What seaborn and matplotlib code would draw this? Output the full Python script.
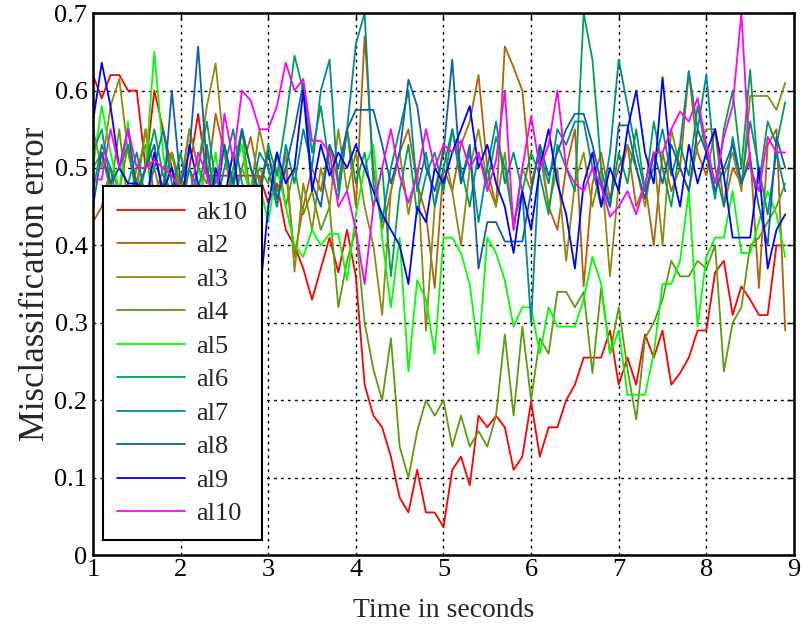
import numpy as np
import pandas as pd
import matplotlib
matplotlib.use("Agg")
import matplotlib.pyplot as plt
import seaborn as sns

# ---- data ----
time_s = np.round(np.arange(1.0, 8.95, 0.1), 1)

ak10 = [0.62,0.59,0.62,0.62,0.60,0.60,0.50,0.60,0.55,0.50,
        0.47,0.50,0.57,0.49,0.49,0.49,0.49,0.49,0.49,0.49,
        0.455,0.48,0.42,0.40,0.37,0.33,0.37,0.41,0.365,0.42,
        0.36,0.22,0.18,0.165,0.127,0.074,0.055,0.11,0.055,0.055,
        0.036,0.11,0.127,0.09,0.18,0.165,0.18,0.165,0.11,0.127,
        0.198,0.127,0.165,0.165,0.20,0.22,0.255,0.255,0.255,0.29,
        0.22,0.255,0.22,0.285,0.255,0.29,0.22,0.235,0.255,0.29,
        0.29,0.365,0.38,0.31,0.347,0.33,0.31,0.31,0.40,0.40]
al2 = [0.43,0.45,0.50,0.47,0.53,0.48,0.55,0.46,0.50,0.52,
       0.47,0.55,0.50,0.48,0.57,0.52,0.46,0.50,0.54,0.48,
       0.52,0.47,0.50,0.385,0.45,0.50,0.47,0.53,0.48,0.55,
       0.45,0.67,0.50,0.42,0.47,0.52,0.55,0.48,0.44,0.345,
       0.50,0.47,0.53,0.56,0.62,0.50,0.45,0.657,0.63,0.60,
       0.48,0.52,0.45,0.42,0.50,0.55,0.347,0.48,0.52,0.46,
       0.50,0.53,0.45,0.48,0.40,0.52,0.47,0.50,0.625,0.52,
       0.49,0.55,0.45,0.50,0.48,0.52,0.345,0.53,0.55,0.29]
al3 = [0.55,0.50,0.58,0.615,0.52,0.47,0.55,0.50,0.45,0.52,
       0.48,0.55,0.50,0.58,0.635,0.52,0.45,0.50,0.47,0.55,
       0.50,0.45,0.52,0.366,0.48,0.42,0.50,0.45,0.55,0.47,
       0.52,0.45,0.40,0.31,0.47,0.52,0.44,0.50,0.29,0.45,
       0.53,0.47,0.40,0.50,0.55,0.48,0.45,0.52,0.42,0.50,
       0.47,0.53,0.45,0.50,0.38,0.48,0.52,0.45,0.50,0.36,
       0.48,0.53,0.50,0.45,0.52,0.40,0.55,0.50,0.47,0.53,
       0.55,0.55,0.49,0.52,0.47,0.593,0.593,0.593,0.575,0.61]
al4 = [0.50,0.52,0.47,0.55,0.45,0.50,0.53,0.44,0.48,0.52,
       0.46,0.50,0.44,0.52,0.47,0.45,0.50,0.55,0.46,0.50,
       0.48,0.52,0.45,0.50,0.44,0.47,0.42,0.45,0.32,0.38,
       0.42,0.30,0.24,0.20,0.28,0.14,0.10,0.16,0.20,0.18,
       0.20,0.14,0.18,0.14,0.16,0.14,0.18,0.285,0.18,0.295,
       0.20,0.28,0.26,0.34,0.34,0.32,0.34,0.235,0.345,0.26,
       0.32,0.24,0.175,0.28,0.30,0.33,0.38,0.36,0.36,0.38,
       0.37,0.40,0.237,0.30,0.32,0.40,0.41,0.43,0.45,0.48]
al5 = [0.50,0.58,0.52,0.47,0.56,0.45,0.50,0.65,0.52,0.44,
       0.48,0.42,0.50,0.46,0.52,0.44,0.49,0.53,0.45,0.48,
       0.43,0.50,0.45,0.40,0.385,0.42,0.40,0.415,0.415,0.355,
       0.44,0.50,0.53,0.41,0.32,0.41,0.237,0.355,0.33,0.26,
       0.41,0.41,0.39,0.35,0.26,0.41,0.39,0.355,0.295,0.32,
       0.32,0.26,0.32,0.295,0.295,0.295,0.33,0.385,0.35,0.26,
       0.29,0.207,0.207,0.207,0.26,0.35,0.35,0.38,0.47,0.295,
       0.385,0.41,0.41,0.47,0.39,0.39,0.43,0.47,0.44,0.385]
al6 = [0.52,0.55,0.48,0.50,0.53,0.46,0.50,0.55,0.49,0.47,
       0.52,0.45,0.50,0.56,0.48,0.53,0.47,0.55,0.50,0.46,
       0.53,0.49,0.56,0.645,0.60,0.52,0.58,0.50,0.46,0.55,
       0.48,0.52,0.45,0.50,0.36,0.47,0.53,0.44,0.49,0.52,
       0.47,0.55,0.50,0.45,0.52,0.48,0.54,0.50,0.43,0.47,
       0.52,0.49,0.44,0.53,0.50,0.47,0.70,0.64,0.50,0.45,
       0.52,0.48,0.55,0.47,0.56,0.50,0.45,0.53,0.49,0.58,
       0.52,0.46,0.55,0.60,0.50,0.627,0.48,0.56,0.53,0.585]
al7 = [0.47,0.53,0.50,0.44,0.48,0.52,0.46,0.50,0.55,0.48,
       0.44,0.50,0.47,0.53,0.45,0.50,0.55,0.48,0.46,0.52,
       0.50,0.45,0.53,0.48,0.55,0.50,0.60,0.64,0.47,0.55,
       0.66,0.70,0.48,0.43,0.50,0.55,0.60,0.47,0.52,0.45,
       0.50,0.55,0.48,0.52,0.43,0.50,0.56,0.48,0.52,0.47,
       0.30,0.52,0.48,0.55,0.53,0.56,0.56,0.50,0.45,0.52,
       0.64,0.58,0.52,0.47,0.50,0.55,0.49,0.53,0.625,0.55,
       0.62,0.50,0.45,0.54,0.48,0.56,0.50,0.44,0.52,0.47]
al8 = [0.45,0.52,0.48,0.50,0.55,0.47,0.50,0.53,0.46,0.60,
       0.48,0.52,0.657,0.50,0.45,0.53,0.48,0.55,0.50,0.47,
       0.52,0.46,0.50,0.55,0.61,0.48,0.45,0.53,0.50,0.55,
       0.575,0.575,0.575,0.53,0.48,0.52,0.614,0.58,0.50,0.47,
       0.52,0.64,0.48,0.53,0.37,0.43,0.43,0.405,0.405,0.405,
       0.47,0.53,0.49,0.52,0.55,0.57,0.57,0.53,0.48,0.45,
       0.555,0.555,0.50,0.46,0.52,0.48,0.53,0.50,0.47,0.55,
       0.52,0.47,0.50,0.53,0.48,0.51,0.45,0.40,0.54,0.50]
al9 = [0.56,0.636,0.58,0.50,0.48,0.48,0.45,0.52,0.47,0.50,
       0.44,0.53,0.48,0.42,0.50,0.46,0.52,0.44,0.40,0.33,
       0.45,0.52,0.48,0.50,0.60,0.47,0.53,0.49,0.52,0.50,
       0.53,0.50,0.47,0.44,0.42,0.40,0.35,0.45,0.43,0.50,
       0.48,0.52,0.55,0.58,0.50,0.53,0.48,0.45,0.39,0.47,
       0.42,0.50,0.55,0.48,0.44,0.37,0.48,0.52,0.45,0.50,
       0.47,0.55,0.60,0.52,0.48,0.617,0.50,0.45,0.53,0.48,
       0.52,0.55,0.49,0.41,0.41,0.41,0.50,0.37,0.42,0.44]
al10 = [0.485,0.485,0.55,0.50,0.55,0.50,0.50,0.51,0.50,0.49,
        0.47,0.46,0.52,0.49,0.45,0.57,0.51,0.60,0.587,0.55,
        0.55,0.58,0.636,0.60,0.615,0.535,0.535,0.52,0.45,0.47,
        0.42,0.35,0.45,0.50,0.55,0.49,0.455,0.49,0.55,0.50,
        0.53,0.52,0.535,0.50,0.52,0.47,0.51,0.60,0.42,0.50,
        0.567,0.50,0.53,0.60,0.50,0.48,0.47,0.50,0.476,0.437,
        0.45,0.47,0.44,0.48,0.52,0.52,0.55,0.573,0.56,0.59,
        0.53,0.48,0.54,0.58,0.70,0.50,0.47,0.54,0.52,0.52]

series_names = ["ak10", "al2", "al3", "al4", "al5", "al6", "al7", "al8", "al9", "al10"]
series_values = [ak10, al2, al3, al4, al5, al6, al7, al8, al9, al10]
series_colors = ["#ff0000", "#b4600c", "#8c8c10", "#5c9c10", "#00ff00",
                 "#00a050", "#008c8c", "#1060a8", "#0000ff", "#ff00ff"]

x_ticks = [1, 2, 3, 4, 5, 6, 7, 8, 9]
y_ticks = [0, 0.1, 0.2, 0.3, 0.4, 0.5, 0.6, 0.7]
y_tick_labels = ["0", "0.1", "0.2", "0.3", "0.4", "0.5", "0.6", "0.7"]

df = pd.concat([pd.DataFrame({"Time": time_s, "Error": v, "Series": n})
                for n, v in zip(series_names, series_values)], ignore_index=True)

# ---- style ----
sns.set_style("white")
plt.rcParams["font.family"] = ["Liberation Serif", "DejaVu Serif"]
plt.rcParams["font.size"] = 19

fig = plt.figure(figsize=(8.05, 6.25), dpi=100)
ax = fig.add_axes([0.1155, 0.112, 0.8708, 0.867])

sns.lineplot(data=df, x="Time", y="Error", hue="Series", hue_order=series_names,
             palette=dict(zip(series_names, series_colors)), linewidth=1.3,
             ax=ax, legend=True)

ax.set_xlim(1, 9)
ax.set_ylim(0, 0.7)
ax.set_xticks(x_ticks)
ax.set_yticks(y_ticks)
ax.set_yticklabels(y_tick_labels)
ax.tick_params(axis="both", labelsize=19, direction="in", length=5, width=1,
               top=True, right=True, colors="black")
ax.tick_params(axis="x", pad=3)
ax.tick_params(axis="y", pad=4)
ax.grid(True, color="black", linestyle=(0, (2, 3)), linewidth=1.0)
for s in ax.spines.values():
    s.set_color("black")
    s.set_linewidth(1.8)
ax.set_xlabel("Time in seconds", fontsize=20, labelpad=12)
ax.set_ylabel("Misclassification error", fontsize=25, labelpad=2)

h, l = ax.get_legend_handles_labels()
leg = ax.legend(h, l, loc="lower left", bbox_to_anchor=(0.014, 0.028),
                borderaxespad=0, fontsize=19, frameon=True, fancybox=False,
                edgecolor="black", framealpha=1, handlelength=2.55,
                labelspacing=0.38, borderpad=0.55, handletextpad=0.45)
leg.get_frame().set_linewidth(1.5)
for line in leg.get_lines():
    line.set_linewidth(1.3)

fig.savefig("out.png", dpi=100)
